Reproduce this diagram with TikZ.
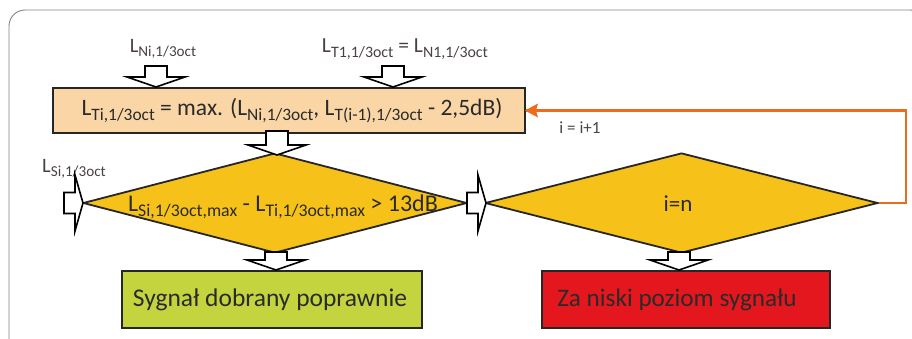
\documentclass[tikz,border=0pt]{standalone}
\usepackage{fontspec}
\setmainfont{Carlito}
\usetikzlibrary{shapes.geometric}
\definecolor{peach}{HTML}{FAD6A6}
\definecolor{gold}{HTML}{F6C219}
\definecolor{lime}{HTML}{C4D43E}
\definecolor{redbox}{HTML}{E4171E}
\definecolor{orng}{HTML}{EC6C1F}
\definecolor{framec}{HTML}{8F7F7F}
\definecolor{txt}{HTML}{2A2A2A}
\definecolor{lbl}{HTML}{4A4242}
\newcommand\sbx[1]{\raisebox{-0.22em}{\scalebox{0.74}{#1}}}
% down block arrow: tip coordinate, shaft length
\newcommand\darr[2]{\draw[blockarrow] (#1) -- ++(29,-10) -- ++(-18,0) -- ++(0,-#2) -- ++(-22,0) -- ++(0,#2) -- ++(-18,0) -- cycle;}
% right block arrow: tip coordinate, head length, shaft length
\newcommand\rarr[3]{\draw[blockarrow] (#1) -- ++(-#2,-28) -- ++(0,17.5) -- ++(-#3,0) -- ++(0,21) -- ++(#3,0) -- ++(0,17.5) -- cycle;}
\tikzset{
  blockarrow/.style={draw=black, fill=white, line width=1.6pt, line join=miter, miter limit=12},
  boxstyle/.style={draw=black!85, line width=2pt, inner sep=0pt, text=txt},
  dia/.style={diamond, draw=black!85, line width=1.8pt, fill=gold, inner sep=0pt},
  lab/.style={text=lbl, inner sep=0pt},
  orangeline/.style={draw=orng, line width=2.6pt, line join=miter},
}
\begin{document}
\begin{tikzpicture}[x=1pt,y=-1pt]
\useasboundingbox (0,0) rectangle (912,338);
\begin{scope}
\clip (0,0) rectangle (912,338);
\draw[framec, line width=0.9pt, rounded corners=16pt] (9,10) rectangle (926,356);
\end{scope}

% loop back
\node[dia, minimum width=393, minimum height=100] (d2) at (681.5,203) {};
\node[boxstyle, fill=peach, minimum width=472, minimum height=45] (tb) at (289,110.5) {};
\node[text=txt, inner sep=0pt, font=\fontsize{23.5}{26}\selectfont] (tbt) at (292,111)
  {L\sbx{Ti,1/3oct} = max. (L\sbx{Ni,1/3oct}, L\sbx{T(i-1),1/3oct} - 2,5dB)};
\draw[orangeline] (d2.east) -- ++(27,0) |- (tb.east);
\fill[orng] (tb.east) ++(-1,0) -- ++(13,-7) -- ++(-2,7) -- ++(2,7) -- cycle;
\node[lab, font=\fontsize{17}{19}\selectfont] (inc) at (580,128) {i = i+1};

\node[dia, minimum width=384, minimum height=100] (d1) at (275,203) {};
\node[text=txt, inner sep=0pt, font=\fontsize{24}{27}\selectfont] (t1) at (283,207)
  {L\sbx{Si,1/3oct,max} - L\sbx{Ti,1/3oct,max} > 13dB};
\node[text=txt, inner sep=0pt, font=\fontsize{23}{26}\selectfont] (t2) at (678,204) {i=n};

\node[boxstyle, fill=lime, minimum width=300, minimum height=57] (ok) at (272,299.5) {};
\node[text=txt, inner sep=0pt, font=\fontsize{25.5}{28}\selectfont] (okt) at (270,300) {Sygnał dobrany poprawnie};
\node[boxstyle, fill=redbox, minimum width=288, minimum height=57] (bad) at (686,299.5) {};
\node[text=txt, inner sep=0pt, font=\fontsize{25.2}{28}\selectfont] (badt) at (677,300) {Za niski poziom sygnału};

% input labels
\node[lab, font=\fontsize{20.5}{23}\selectfont] (ln) at (163,49) {L\sbx{Ni,1/3oct}};
\node[lab, font=\fontsize{21.5}{24}\selectfont] (lt) at (405,49) {L\sbx{T1,1/3oct} = L\sbx{N1,1/3oct}};
\node[lab, font=\fontsize{20.5}{23}\selectfont] (ls) at (74,169) {L\sbx{Si,1/3oct}};

% block arrows
\coordinate (p1) at (156,0 |- tb.north);
\coordinate (p2) at (393,0 |- tb.north);
\darr{p1}{11}
\darr{p2}{11}
\coordinate (p3) at (277,155);
\darr{p3}{14}
\coordinate (p4) at (276,0 |- ok.north);
\darr{p4}{8}
\coordinate (p5) at (679,0 |- bad.north);
\darr{p5}{8}
\coordinate (p6) at (83,0 |- d1.west);
\rarr{p6}{8}{11}
\coordinate (p7) at (486,0 |- d2.west);
\rarr{p7}{8}{11}
\end{tikzpicture}
\end{document}
